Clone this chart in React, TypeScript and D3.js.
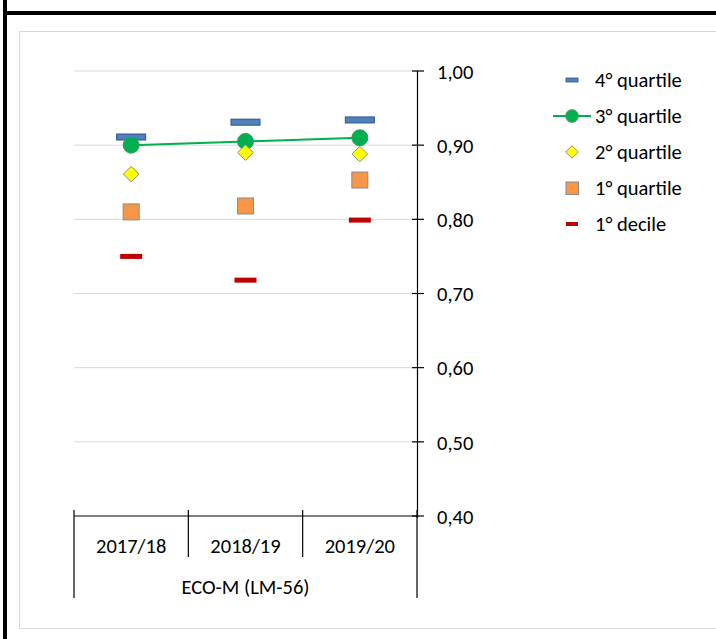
import React from "react";
import * as d3 from "d3";

const categories = ["2017/18", "2018/19", "2019/20"];
const groupLabel = "ECO-M (LM-56)";
const q4 = [0.911, 0.931, 0.934];
const q3 = [0.9, 0.905, 0.91];
const q2 = [0.861, 0.89, 0.888];
const q1 = [0.81, 0.818, 0.853];
const d1 = [0.75, 0.718, 0.799];
const yTicks = [0.4, 0.5, 0.6, 0.7, 0.8, 0.9, 1.0];
const legendLabels = ["4° quartile", "3° quartile", "2° quartile", "1° quartile", "1° decile"];

const W = 716, H = 639;
const FONT = "Carlito, Calibri, 'Open Sans', 'Liberation Sans', sans-serif";
const FS = 20.5;

const diamondPath = (r: number) => `M0,${-r}L${r},0L0,${r}L${-r},0Z`;

export default function App() {
  const x = d3.scaleBand<string>().domain(categories).range([74, 417]).paddingInner(0).paddingOuter(0);
  const y = d3.scaleLinear().domain([0.4, 1.0]).range([516, 71]);
  const fmt = (v: number) => v.toFixed(2).replace(".", ",");
  const cx = (c: string) => (x(c) as number) + x.bandwidth() / 2;
  const line = d3.line<number>().x((_, i) => cx(categories[i])).y((v) => y(v));
  const bounds = [74, ...categories.map((c) => (x(c) as number) + x.bandwidth())];
  const legY = (i: number) => 80 + i * 36;

  return (
    <svg width={W} height={H} style={{ position: "absolute", left: 0, top: 0, background: "#fff" }} fontFamily={FONT}>
      <rect x={0} y={0} width={W} height={H} fill="#fff" />
      {/* outer black frame */}
      <line x1={5} y1={0} x2={5} y2={H} stroke="#000" strokeWidth={4} />
      <line x1={3} y1={13} x2={W} y2={13} stroke="#000" strokeWidth={4} />
      {/* chart area border */}
      <rect x={19.5} y={31.5} width={W} height={597} fill="#fff" stroke="#d9d9d9" strokeWidth={1} />
      {/* gridlines */}
      {yTicks.slice(1).map((t) => (
        <line key={t} x1={74} x2={417} y1={y(t)} y2={y(t)} stroke="#d9d9d9" strokeWidth={1} />
      ))}
      {/* y axis */}
      <line x1={417.5} x2={417.5} y1={y(1.0)} y2={y(0.4) + 2} stroke="#000" strokeWidth={1.2} />
      {yTicks.map((t) => (
        <g key={t}>
          <line x1={412} x2={424} y1={y(t)} y2={y(t)} stroke="#000" strokeWidth={1.2} />
          <text x={437} y={y(t) + 0.5} dy="0.35em" fontSize={FS} fill="#000">{fmt(t)}</text>
        </g>
      ))}
      {/* category axis */}
      <line x1={74} x2={417} y1={516} y2={516} stroke="#000" strokeWidth={1.2} />
      {bounds.map((b, i) => {
        const outer = i === 0 || i === bounds.length - 1;
        return <line key={i} x1={b} x2={b} y1={510} y2={outer ? 598 : 557} stroke="#000" strokeWidth={1.2} />;
      })}
      {categories.map((c) => (
        <text key={c} x={cx(c)} y={545.5} textAnchor="middle" dy="0.35em" fontSize={FS} fill="#000">{c}</text>
      ))}
      <text x={(74 + 417) / 2} y={586.5} textAnchor="middle" dy="0.35em" fontSize={FS} fill="#000">{groupLabel}</text>

      {/* series */}
      <path d={line(q3) as string} fill="none" stroke="#00b050" strokeWidth={2} />
      {q4.map((v, i) => (
        <rect key={"q4" + i} x={cx(categories[i]) - 14.5} y={y(v) - 3} width={29} height={6} fill="#4f81bd" stroke="#2f528f" strokeWidth={1} />
      ))}
      {q3.map((v, i) => (
        <circle key={"q3" + i} cx={cx(categories[i])} cy={y(v)} r={8} fill="#00b050" stroke="#3a9a5e" strokeWidth={1} />
      ))}
      {q2.map((v, i) => (
        <path key={"q2" + i} d={diamondPath(7.8)} transform={`translate(${cx(categories[i])},${y(v)})`} fill="#ffff00" stroke="#8c8c8c" strokeWidth={1} />
      ))}
      {q1.map((v, i) => (
        <rect key={"q1" + i} x={cx(categories[i]) - 8} y={y(v) - 8} width={16} height={16} fill="#f79646" stroke="#8c8c8c" strokeWidth={1} />
      ))}
      {d1.map((v, i) => (
        <rect key={"d1" + i} x={cx(categories[i]) - 11} y={y(v) - 2.5} width={22} height={5} fill="#c00000" />
      ))}

      {/* legend */}
      <g>
        <rect x={566} y={legY(0) - 2} width={12} height={4} fill="#4f81bd" stroke="#2f528f" strokeWidth={0.8} />
        <line x1={553} x2={591} y1={legY(1)} y2={legY(1)} stroke="#00b050" strokeWidth={2} />
        <circle cx={572} cy={legY(1)} r={6.3} fill="#00b050" stroke="#3a9a5e" strokeWidth={1} />
        <path d={diamondPath(6.3)} transform={`translate(572,${legY(2)})`} fill="#ffff00" stroke="#8c8c8c" strokeWidth={1} />
        <rect x={566} y={legY(3) - 6} width={12.5} height={12.5} fill="#f79646" stroke="#8c8c8c" strokeWidth={1} />
        <rect x={566} y={legY(4) - 2} width={12} height={4} fill="#c00000" />
        {legendLabels.map((l, i) => (
          <text key={l} x={595} y={legY(i)} dy="0.35em" fontSize={FS} fill="#000">{l}</text>
        ))}
      </g>
    </svg>
  );
}
